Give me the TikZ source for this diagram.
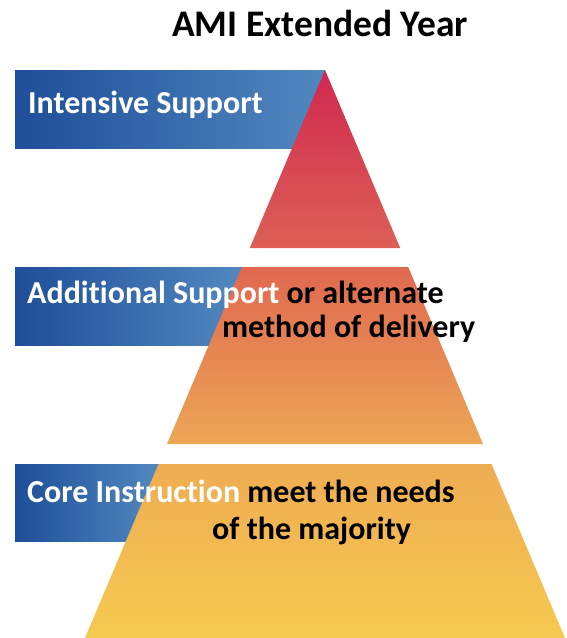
\documentclass[tikz,border=0pt]{standalone}
\usepackage{fontspec}
\setmainfont{Carlito}[Ligatures=CommonOff]
\usetikzlibrary{calc,positioning}

\definecolor{barDark}{RGB}{30,78,152}
\definecolor{barLight}{RGB}{82,136,192}
\definecolor{redTop}{RGB}{208,40,80}
\definecolor{redBot}{RGB}{221,96,86}
\definecolor{orTop}{RGB}{224,104,80}
\definecolor{orBot}{RGB}{237,166,86}
\definecolor{yeTop}{RGB}{238,172,82}
\definecolor{yeBot}{RGB}{246,202,80}

\begin{document}
\begin{tikzpicture}[x=1pt,y=-1pt,
    bar/.style={left color=barDark,right color=barLight,draw=none},
    lbl/.style={inner sep=0pt,anchor=base west,font={\fontsize{32}{38}\selectfont\bfseries}}]
    \useasboundingbox (0,0) rectangle (566,638);
    \fill[bar] (15,70) rectangle (325,148);
    \fill[bar] (15,267) rectangle (241.8,345);
    \fill[bar] (15,464) rectangle (158.5,541);
    \shade[top color=redTop,bottom color=redBot] (325,70) -- (400.2,248) -- (249.8,248) -- cycle;
    \shade[top color=orTop,bottom color=orBot] (241.8,267) -- (408.2,267) -- (483,444) -- (167,444) -- cycle;
    \shade[top color=yeTop,bottom color=yeBot] (158.5,464) -- (491.5,464) -- (565,638) -- (85,638) -- cycle;
    \node[lbl,anchor=base,font={\fontsize{37.5}{44}\selectfont\bfseries}] (title) at (320,36) {AMI Extended Year};
    \node[lbl,text=white] (intense) at (28,113) {Intensive Support};
    \node[lbl] (addl) at (27,303) {\textcolor{white}{Additional Support} or alternate};
    \node[lbl] (addlb) at (222,337) {method of delivery};
    \node[lbl] (core) at (27,502) {\textcolor{white}{Core Instruction} meet the needs};
    \node[lbl] (coreb) at (212,539) {of the majority};
\end{tikzpicture}
\end{document}
